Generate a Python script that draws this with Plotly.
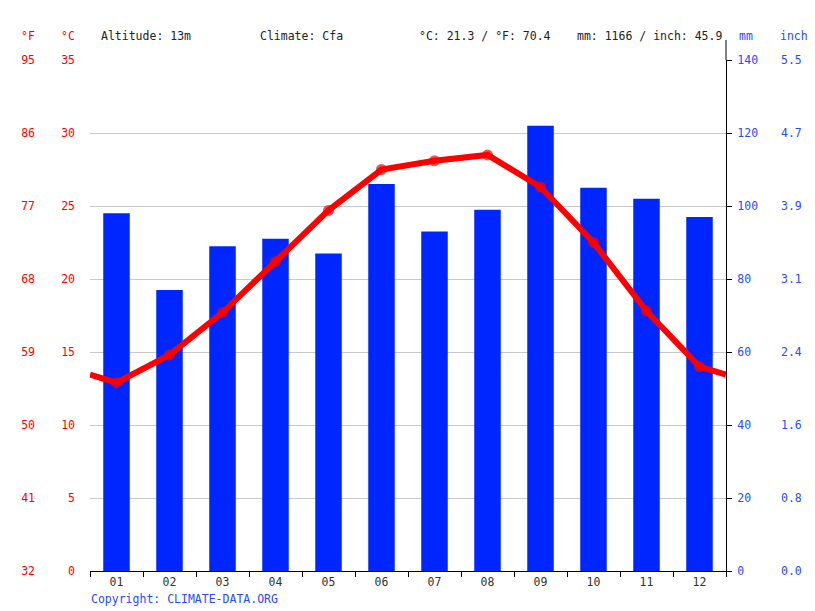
import plotly.graph_objects as go

# monthly climate values
months = ["01", "02", "03", "04", "05", "06", "07", "08", "09", "10", "11", "12"]
temp_c = [12.9, 14.8, 17.7, 21.2, 24.7, 27.5, 28.1, 28.5, 26.3, 22.5, 17.8, 14.0]
precip_mm = [98, 77, 89, 91, 87, 106, 93, 99, 122, 105, 102, 97]
altitude = "13m"
climate = "Cfa"

c_ticks = [0, 5, 10, 15, 20, 25, 30, 35]
mm_ticks = [0, 20, 40, 60, 80, 100, 120, 140]
f_ticks = [c * 1.8 + 32 for c in c_ticks]
inch_ticks = [m / 25.4 for m in mm_ticks]
temp_f = [c * 1.8 + 32 for c in temp_c]
precip_in = [m / 25.4 for m in precip_mm]

font = "DejaVu Sans Mono"
red = "#ff0000"
blue = "#0026ff"
label_blue = "#2a4bff"
fs = 11.5

# the page body has an 8px margin, so the figure is drawn 8px in
OFF = 8
W, H = 815, 611
L, R, T, B = 90, 89, 60, 40
pw, ph = W - L - R, H - T - B


def px(x):
    return (x - L) / pw


def py(y):
    return (H - B - y) / ph


x_pos = list(range(1, 13))
# line runs off both edges towards the neighbouring month (Dec <-> Jan)
edge = (temp_c[0] + temp_c[-1]) / 2
line_x = [0.5] + x_pos + [12.5]
line_y = [edge] + temp_c + [edge]

mean_c = sum(temp_c) / len(temp_c)
total_mm = sum(precip_mm)

fig = go.Figure()
fig.add_trace(go.Bar(
    x=x_pos, y=precip_mm, width=0.5, marker=dict(color=blue, line=dict(width=0)),
    yaxis="y", hoverinfo="skip",
))
# unit twins, invisible, so the °F and inch axes get drawn
fig.add_trace(go.Scatter(x=x_pos, y=temp_f, yaxis="y3", mode="lines",
                         line=dict(width=0), opacity=0, hoverinfo="skip"))
fig.add_trace(go.Scatter(x=x_pos, y=precip_in, yaxis="y4", mode="lines",
                         line=dict(width=0), opacity=0, hoverinfo="skip"))
fig.add_trace(go.Scatter(
    x=line_x, y=line_y, mode="lines+markers", yaxis="y2",
    line=dict(color=red, width=6),
    marker=dict(color=red, size=[0] + [11] * 12 + [0], line=dict(width=0)),
    hoverinfo="skip",
))

fig.update_layout(
    width=W - OFF, height=H - OFF,
    margin=dict(l=L - OFF, r=R, t=T - OFF, b=B, pad=0),
    paper_bgcolor="white", plot_bgcolor="white",
    showlegend=False,
    font=dict(family=font, size=fs),
    xaxis=dict(
        range=[0.5, 12.5], tickvals=x_pos, ticktext=months,
        tickfont=dict(color="#333333", size=fs),
        ticks="", showline=True, linecolor="black", linewidth=1,
        showgrid=False, zeroline=False,
        minor=dict(tick0=0.5, dtick=1, ticks="outside", ticklen=5,
                   tickcolor="black", showgrid=False),
    ),
    yaxis=dict(
        range=[0, 140], tickvals=mm_ticks, side="right",
        tickfont=dict(color=label_blue, size=fs),
        ticks="outside", ticklen=5, tickcolor="black",
        showline=True, linecolor="black", linewidth=1,
        showgrid=True, gridcolor="#c8c8c8", gridwidth=1, zeroline=False,
        ticklabelstandoff=3,
    ),
    yaxis2=dict(
        range=[0, 35], tickvals=c_ticks, side="left", overlaying="y",
        tickfont=dict(color=red, size=fs), ticks="",
        showline=False, showgrid=False, zeroline=False,
        ticklabelstandoff=14,
    ),
    yaxis3=dict(
        range=[32, 95], tickvals=f_ticks, ticktext=[str(round(f)) for f in f_ticks],
        side="left", overlaying="y", anchor="x",
        tickfont=dict(color=red, size=fs), ticks="",
        showline=False, showgrid=False, zeroline=False,
        ticklabelstandoff=54,
    ),
    yaxis4=dict(
        range=[0, 140 / 25.4], tickvals=inch_ticks,
        ticktext=[f"{v:.1f}" for v in inch_ticks],
        side="right", overlaying="y", anchor="x",
        tickfont=dict(color=label_blue, size=fs), ticks="",
        showline=False, showgrid=False, zeroline=False,
        ticklabelstandoff=54,
    ),
)

# right axis line runs a little above the plot area
fig.add_shape(type="line", xref="paper", yref="paper", x0=1, x1=1,
              y0=1, y1=py(40), line=dict(color="black", width=1))

header = [
    ("°F", 36, "right", red),
    ("°C", 76, "right", red),
    (f"Altitude: {altitude}", 100, "left", "#222222"),
    (f"Climate: {climate}", 259, "left", "#222222"),
    (f"°C: {mean_c:.1f} / °F: {mean_c * 1.8 + 32:.1f}", 418, "left", "#222222"),
    (f"mm: {total_mm} / inch: {total_mm / 25.4:.1f}", 576, "left", "#222222"),
    ("mm", 738, "left", label_blue),
    ("inch", 779, "left", label_blue),
]
for text, x, anchor, color in header:
    fig.add_annotation(text=text, xref="paper", yref="paper", x=px(x), y=py(36),
                       xanchor=anchor, yanchor="middle", showarrow=False,
                       borderpad=0, font=dict(color=color, size=fs, family=font))

fig.add_annotation(text="Copyright: CLIMATE-DATA.ORG", xref="paper", yref="paper",
                   x=px(90), y=py(599), xanchor="left", yanchor="middle",
                   showarrow=False, borderpad=0,
                   font=dict(color=label_blue, size=fs, family=font))

fig.write_html("out.html")
